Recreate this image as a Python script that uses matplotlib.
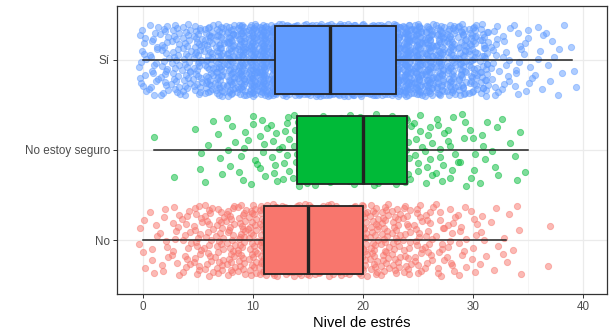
import numpy as np
import matplotlib
matplotlib.use('Agg')
import matplotlib.pyplot as plt

matplotlib.rcParams.update({
    'font.family': ['Liberation Sans', 'DejaVu Sans'],
    'font.size': 8.4,
})

# categories, bottom to top
groups = ['No', 'No estoy seguro', 'Sí']
colors = ['#F8766D', '#00BA38', '#619CFF']

# box statistics
whis_lo = [0, 1, 0]
q1 = [11, 14, 12]
median = [15, 20, 17]
q3 = [20, 24, 23]
whis_hi = [33, 35, 39]

# number of answers per stress level (estimated from the point clouds)
levels_no = [0, 1, 2, 3, 4, 5, 6, 7, 8, 9, 10, 11, 12, 13, 14, 15, 16, 17, 18, 19,
             20, 21, 22, 23, 24, 25, 26, 27, 28, 29, 30, 31, 32, 33, 34, 37]
counts_no = [5, 6, 8, 10, 14, 18, 20, 22, 26, 28, 30, 42, 44, 44, 44, 44, 42, 40, 38, 36,
             34, 28, 26, 24, 20, 18, 15, 13, 11, 10, 7, 5, 4, 4, 4, 2]

levels_ns = [1, 3, 5, 6, 7, 8, 9, 10, 11, 12, 13, 14, 15, 16, 17, 18, 19, 20, 21, 22,
             23, 24, 25, 26, 27, 28, 29, 30, 31, 32, 33, 34, 35]
counts_ns = [1, 1, 3, 3, 3, 5, 5, 6, 7, 8, 9, 10, 10, 12, 10, 12, 12, 14, 12, 12,
             12, 12, 8, 8, 8, 7, 6, 5, 5, 4, 2, 3, 1]

levels_si = list(range(0, 40))
counts_si = [14, 18, 22, 25, 28, 34, 42, 50, 58, 66, 74, 82, 90, 98, 98, 105, 105, 110, 105, 105,
             98, 98, 90, 90, 82, 74, 66, 58, 50, 46, 40, 34, 14, 11, 9, 8, 6, 5, 4, 3]

levels = [levels_no, levels_ns, levels_si]
counts = [counts_no, counts_ns, counts_si]


def halton(i, base):
    f, r = 1.0, 0.0
    while i > 0:
        f /= base
        r += f * (i % base)
        i //= base
    return r


def jitter(n, start):
    # deterministic spread in [-0.4, 0.4] (Halton sequence, like geom_jitter)
    jx = np.array([halton(start + i, 2) for i in range(n)])
    jy = np.array([halton(start + i, 3) for i in range(n)])
    return (jx - 0.5) * 0.8, (jy - 0.5) * 0.8


fig = plt.figure(figsize=(6.11, 3.30), dpi=100)
ax = fig.add_axes([0.191, 0.109, 0.803, 0.873])

for k in range(3):
    vals = np.repeat(levels[k], counts[k]).astype(float)
    jx, jy = jitter(len(vals), 1 + 1000 * k)
    ax.scatter(vals + jx, np.full(len(vals), k + 1) + jy, s=20, color=colors[k],
               edgecolors=colors[k], alpha=0.5, linewidths=0.7, zorder=2)

stats = []
for k in range(3):
    stats.append({'whislo': whis_lo[k], 'q1': q1[k], 'med': median[k],
                  'q3': q3[k], 'whishi': whis_hi[k], 'fliers': []})

bp = ax.bxp(stats, positions=[1, 2, 3], widths=0.75, vert=False, patch_artist=True,
            showcaps=False, showfliers=False, zorder=3,
            boxprops=dict(edgecolor='#222222', linewidth=1.3),
            medianprops=dict(color='#222222', linewidth=2.4),
            whiskerprops=dict(color='#222222', linewidth=1.1))
for patch, c in zip(bp['boxes'], colors):
    patch.set_facecolor(c)
for w in bp['whiskers']:
    w.set_zorder(2.5)

ax.set_xlim(-2.35, 42.2)
ax.set_ylim(0.4, 3.6)
ax.set_xticks([0, 10, 20, 30, 40])
ax.set_xticks([5, 15, 25, 35], minor=True)
ax.set_yticks([1, 2, 3])
ax.set_yticklabels(groups)
ax.grid(True, which='major', color='#EBEBEB', linewidth=0.9, zorder=0)
ax.grid(True, which='minor', axis='x', color='#F2F2F2', linewidth=0.5, zorder=0)
ax.set_axisbelow(True)
ax.tick_params(which='major', length=3, width=0.7, color='#333333',
               labelcolor='#4D4D4D', labelsize=8.4, pad=2)
ax.tick_params(which='minor', length=0)
for sp in ax.spines.values():
    sp.set_color('#333333')
    sp.set_linewidth(0.9)
ax.set_xlabel('Nivel de estrés', fontsize=10.5, labelpad=2)

fig.savefig('out.png', dpi=100)
